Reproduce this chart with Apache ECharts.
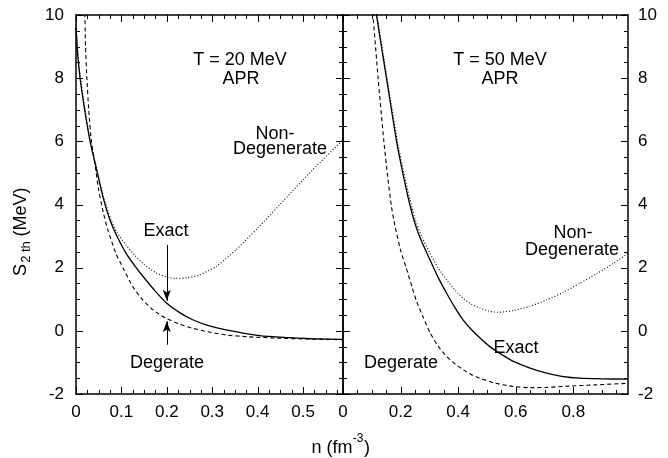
<!DOCTYPE html>
<html><head><meta charset="utf-8">
<script src="https://cdn.jsdelivr.net/npm/echarts@6/dist/echarts.min.js"></script>
<style>html,body{margin:0;padding:0;background:#fff}#c{width:668px;height:458px}</style>
</head><body><div id="c"></div>
<script>
// ---- data (n in fm^-3, S2th in MeV) ----
const leftExact = [[0.000,9.60],[0.004,8.70],[0.009,8.00],[0.019,7.00],[0.031,6.00],[0.047,5.00],[0.060,4.20],[0.075,3.50],[0.090,3.00],[0.110,2.46],[0.130,2.05],[0.150,1.68],[0.175,1.25],[0.200,0.87],[0.230,0.56],[0.257,0.35],[0.290,0.17],[0.330,0.03],[0.404,-0.15],[0.460,-0.21],[0.520,-0.25],[0.588,-0.27]];
const leftDegenerate = [[0.019,10.5],[0.021,9.0],[0.024,8.0],[0.028,7.0],[0.034,6.0],[0.042,5.25],[0.050,4.45],[0.060,3.75],[0.070,3.20],[0.088,2.45],[0.105,1.95],[0.125,1.40],[0.147,0.98],[0.170,0.66],[0.198,0.40],[0.230,0.20],[0.257,0.08],[0.290,-0.03],[0.330,-0.13],[0.380,-0.19],[0.440,-0.23],[0.510,-0.26],[0.588,-0.28]];
const leftNonDeg = [[0.000,9.70],[0.004,8.80],[0.009,8.10],[0.019,7.10],[0.031,6.06],[0.047,5.06],[0.060,4.27],[0.077,3.52],[0.090,3.12],[0.110,2.72],[0.130,2.38],[0.150,2.10],[0.176,1.84],[0.200,1.70],[0.220,1.66],[0.245,1.68],[0.270,1.76],[0.308,2.03],[0.352,2.56],[0.400,3.25],[0.457,4.12],[0.520,5.08],[0.588,6.05]];

const rightExact = [[0.112,10.25],[0.130,9.20],[0.151,8.00],[0.186,6.00],[0.210,4.90],[0.232,4.00],[0.250,3.40],[0.270,2.90],[0.302,2.25],[0.330,1.70],[0.360,1.19],[0.390,0.72],[0.417,0.35],[0.445,0.05],[0.475,-0.22],[0.510,-0.50],[0.534,-0.65],[0.560,-0.80],[0.590,-0.96],[0.650,-1.18],[0.707,-1.34],[0.760,-1.44],[0.823,-1.50],[0.900,-1.52],[0.990,-1.53]];
const rightDegenerate = [[0.101,10.30],[0.104,10.0],[0.122,8.00],[0.142,6.00],[0.155,4.90],[0.168,3.95],[0.180,3.35],[0.200,2.55],[0.220,1.98],[0.240,1.38],[0.255,0.95],[0.280,0.40],[0.302,-0.05],[0.330,-0.48],[0.360,-0.81],[0.390,-1.05],[0.417,-1.23],[0.445,-1.38],[0.475,-1.50],[0.530,-1.66],[0.590,-1.76],[0.650,-1.80],[0.710,-1.79],[0.765,-1.76],[0.880,-1.71],[0.990,-1.66]];
const rightNonDeg = [[0.113,10.30],[0.118,10.0],[0.132,9.2],[0.153,8.00],[0.189,6.00],[0.215,4.85],[0.240,3.90],[0.250,3.55],[0.275,2.95],[0.302,2.46],[0.330,2.00],[0.360,1.61],[0.390,1.28],[0.417,1.03],[0.445,0.85],[0.475,0.72],[0.505,0.63],[0.534,0.59],[0.560,0.60],[0.590,0.64],[0.650,0.78],[0.707,0.98],[0.765,1.22],[0.823,1.51],[0.880,1.80],[0.940,2.14],[0.990,2.46]];

// ---- axes and tick positions ----
const leftXRange = [0, 0.588];
const rightXRange = [0, 0.99];
const leftXStep = 0.1;
const rightXStep = 0.2;
const yRange = [-2, 10];
const yStep = 2;
const leftXMajor = [0, 0.1, 0.2, 0.3, 0.4, 0.5];
const leftXMinor = [0.025, 0.05, 0.075, 0.125, 0.15, 0.175, 0.225, 0.25, 0.275, 0.325, 0.35, 0.375, 0.425, 0.45, 0.475, 0.525, 0.55, 0.575];
const rightXMajor = [0, 0.2, 0.4, 0.6, 0.8];
const rightXMinor = [0.05, 0.1, 0.15, 0.25, 0.3, 0.35, 0.45, 0.5, 0.55, 0.65, 0.7, 0.75, 0.85, 0.9, 0.95];
const yMajor = [-2, 0, 2, 4, 6, 8, 10];
const yMinor = [-1.5, -1, -0.5, 0.5, 1, 1.5, 2.5, 3, 3.5, 4.5, 5, 5.5, 6.5, 7, 7.5, 8.5, 9, 9.5];
const exactArrow = [[0.2, 2.72], [0.2, 0.95]];
const degArrow = [[0.2, -0.44], [0.2, 0.30]];

const FONT = '"Liberation Sans", Arial, Helvetica, sans-serif';
const K = '#000';

function fmt(v, step) {
  const r = Math.round(v / step);
  if (Math.abs(v - r * step) > 1e-6) return '';
  return String(parseFloat((r * step).toFixed(3)));
}

function xAxesFor(g, range, step) {
  const base = {type: 'value', gridIndex: g, min: range[0], max: range[1], interval: step,
    splitLine: {show: false}, axisTick: {show: false},
    axisLine: {show: true, onZero: false, lineStyle: {color: K, width: 1.5}}};
  return [
    Object.assign({}, base, {position: 'bottom',
      axisLabel: {show: true, showMaxLabel: false, margin: 10, fontSize: 17, color: K, fontFamily: FONT,
        formatter: v => fmt(v, step)}}),
    Object.assign({}, base, {position: 'top', axisLabel: {show: false}})
  ];
}

function yAxis(g, pos, showLabel) {
  return {type: 'value', gridIndex: g, position: pos, min: yRange[0], max: yRange[1], interval: yStep,
    axisLine: {show: true, onZero: false, lineStyle: {color: K, width: 1.5}},
    axisTick: {show: false}, minorTick: {show: false},
    axisLabel: {show: showLabel, margin: pos === 'left' ? 12 : 10, fontSize: 17, color: K, fontFamily: FONT},
    splitLine: {show: false}};
}

// tick marks: kind 0 = x major, 1 = x minor, 2 = y major, 3 = y minor
function tickData(xMajor, xMinor) {
  return xMajor.map(v => [v, 0]).concat(xMinor.map(v => [v, 1]), yMajor.map(v => [v, 2]), yMinor.map(v => [v, 3]));
}
function tickRenderer(xr) {
  return function (params, api) {
    const v = api.value(0), k = api.value(1);
    const len = (k === 0 || k === 2) ? 7 : 4;
    let segs;
    if (k < 2) {
      const b = api.coord([v, yRange[0]]), t = api.coord([v, yRange[1]]);
      const x = Math.round(b[0]) + 0.5;
      segs = [[x, b[1], x, b[1] - len], [x, t[1], x, t[1] + len]];
    } else {
      const l = api.coord([xr[0], v]), r = api.coord([xr[1], v]);
      const y = Math.round(l[1]) + 0.5;
      segs = [[l[0], y, l[0] + len, y], [r[0], y, r[0] - len, y]];
    }
    return {type: 'group', children: segs.map(s => ({type: 'line',
      shape: {x1: s[0], y1: s[1], x2: s[2], y2: s[3]}, style: {stroke: K, lineWidth: 1}}))};
  };
}
function ticks(xi, yi, xr, xMajor, xMinor) {
  return {type: 'custom', xAxisIndex: xi, yAxisIndex: yi, silent: true, clip: false, z: 5,
    data: tickData(xMajor, xMinor), renderItem: tickRenderer(xr)};
}

function line(data, xi, yi, type, width, extra) {
  return Object.assign({type: 'line', data: data, xAxisIndex: xi, yAxisIndex: yi,
    showSymbol: false, smooth: 0.2,
    lineStyle: {color: K, width: width, type: type}}, extra || {});
}

function arrow(pts) {
  return {silent: true, symbol: ['none', 'arrow'], symbolSize: [6, 11], animation: false,
    label: {show: false}, lineStyle: {color: K, width: 1, type: 'solid'},
    data: [[{coord: pts[0]}, {coord: pts[1]}]]};
}

function txt(x, y, s, size, rot) {
  return {type: 'text', x: x, y: y, rotation: rot || 0, silent: true,
    style: {text: s, fill: K, font: (size || 18) + 'px ' + FONT, align: 'center', verticalAlign: 'middle'}};
}

const R = Math.PI / 2;
const chart = echarts.init(document.getElementById('c'));
chart.setOption({
  animation: false,
  grid: [
    {left: 76, top: 15, width: 267, height: 379},
    {left: 343, top: 15, width: 285, height: 379}
  ],
  xAxis: xAxesFor(0, leftXRange, leftXStep).concat(xAxesFor(1, rightXRange, rightXStep)),
  yAxis: [yAxis(0, 'left', true), yAxis(0, 'right', false), yAxis(1, 'left', false), yAxis(1, 'right', true)],
  series: [
    line(leftExact, 0, 0, 'solid', 1.3, {markLine: arrow(exactArrow)}),
    line(leftDegenerate, 0, 0, [4, 3], 1.1, {markLine: arrow(degArrow)}),
    line(leftNonDeg, 0, 0, [1, 2], 1.1),
    line(rightExact, 2, 2, 'solid', 1.3),
    line(rightDegenerate, 2, 2, [4, 3], 1.1),
    line(rightNonDeg, 2, 2, [1, 2], 1.1),
    ticks(0, 0, leftXRange, leftXMajor, leftXMinor),
    ticks(2, 2, rightXRange, rightXMajor, rightXMinor)
  ],
  graphic: [
    txt(240, 60, 'T = 20 MeV'), txt(241, 79, 'APR'),
    txt(500, 60, 'T = 50 MeV'), txt(500, 79, 'APR'),
    txt(275, 134, 'Non-'), txt(280, 149, 'Degenerate'),
    txt(166, 231, 'Exact'), txt(167, 363, 'Degerate'),
    txt(573, 233, 'Non-'), txt(572, 250, 'Degenerate'),
    txt(516, 348, 'Exact'), txt(401, 363, 'Degerate'),
    // y-axis title: S_{2 th} (MeV), rotated
    txt(21, 270, 'S', 18, R), txt(26, 252, '2 th', 13, R), txt(21, 212, '(MeV)', 18, R),
    // x-axis title: n (fm^-3)
    txt(332, 448, 'n (fm', 18), txt(358, 439, '-3', 12), txt(367, 448, ')', 18)
  ]
});
</script></body></html>
